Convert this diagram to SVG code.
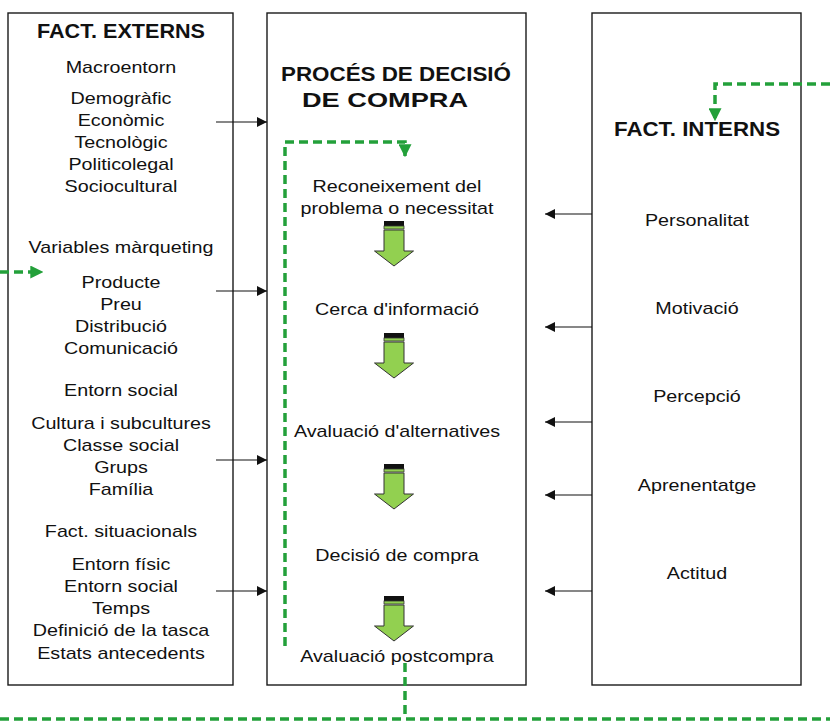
<svg xmlns="http://www.w3.org/2000/svg" width="830" height="722" viewBox="0 0 830 722">
  <style>
    .box { fill: #ffffff; stroke: #1a1a1a; stroke-width: 1.4; }
    .t { font-family: "Liberation Sans", Arial, sans-serif; font-size: 17px; fill: #111; text-anchor: middle; }
    .h { font-family: "Liberation Sans", Arial, sans-serif; font-size: 21px; font-weight: bold; fill: #111; text-anchor: middle; }
    .link { fill: none; stroke: #111; stroke-width: 1.2; }
    .loop { fill: none; stroke: #23a03a; stroke-width: 3.5; stroke-dasharray: 9 5; }
  </style>
  <defs>
    <marker id="ah" viewBox="0 0 10 10" refX="10" refY="5" markerWidth="10" markerHeight="10" markerUnits="userSpaceOnUse" orient="auto">
      <path d="M0,0 L10,5 L0,10 Z" fill="#111"/>
    </marker>
    <marker id="gh" viewBox="0 0 10 10" refX="9" refY="5" markerWidth="13" markerHeight="13" markerUnits="userSpaceOnUse" orient="auto">
      <path d="M0,0 L10,5 L0,10 Z" fill="#23a03a"/>
    </marker>
    <!-- step arrow between stages of the process -->
    <g id="step">
      <rect x="-10" y="0" width="20" height="5" fill="#111"/>
      <rect x="-10" y="5" width="20" height="3" fill="#92d050" stroke="#333" stroke-width="0.8"/>
      <path d="M-10,9 H10 V30 H19.5 L0,45 L-19.5,30 H-10 Z" fill="#92d050" stroke="#333" stroke-width="1"/>
    </g>
  </defs>

  <rect width="830" height="722" fill="#ffffff"/>

  <g id="externs">
    <rect class="box" x="8" y="13" width="225" height="672"/>
    <text class="h" x="121" y="38" textLength="168" lengthAdjust="spacingAndGlyphs">FACT. EXTERNS</text>
    <!-- labels set in a slightly widened face -->
    <g transform="translate(121,0) scale(1.16,1)">
      <text class="t" x="0" y="73">Macroentorn</text>
      <text class="t" x="0" y="104">Demogràfic</text>
      <text class="t" x="0" y="126">Econòmic</text>
      <text class="t" x="0" y="148">Tecnològic</text>
      <text class="t" x="0" y="170">Politicolegal</text>
      <text class="t" x="0" y="192">Sociocultural</text>
      <text class="t" x="0" y="253">Variables màrqueting</text>
      <text class="t" x="0" y="288">Producte</text>
      <text class="t" x="0" y="310">Preu</text>
      <text class="t" x="0" y="332">Distribució</text>
      <text class="t" x="0" y="354">Comunicació</text>
      <text class="t" x="0" y="396">Entorn social</text>
      <text class="t" x="0" y="429">Cultura i subcultures</text>
      <text class="t" x="0" y="451">Classe social</text>
      <text class="t" x="0" y="473">Grups</text>
      <text class="t" x="0" y="495">Família</text>
      <text class="t" x="0" y="537">Fact. situacionals</text>
      <text class="t" x="0" y="570">Entorn físic</text>
      <text class="t" x="0" y="592">Entorn social</text>
      <text class="t" x="0" y="614">Temps</text>
      <text class="t" x="0" y="636">Definició de la tasca</text>
      <text class="t" x="0" y="659">Estats antecedents</text>
    </g>
  </g>

  <g id="proces">
    <rect class="box" x="267" y="13" width="259" height="672"/>
    <text class="h" x="396" y="81" textLength="230" lengthAdjust="spacingAndGlyphs">PROCÉS DE DECISIÓ</text>
    <text class="h" x="385" y="107" textLength="166" lengthAdjust="spacingAndGlyphs">DE COMPRA</text>
    <g transform="translate(397,0) scale(1.16,1)">
      <text class="t" x="0" y="192">Reconeixement del</text>
      <text class="t" x="0" y="214">problema o necessitat</text>
      <text class="t" x="0" y="315">Cerca d'informació</text>
      <text class="t" x="0" y="437">Avaluació d'alternatives</text>
      <text class="t" x="0" y="561">Decisió de compra</text>
      <text class="t" x="0" y="662">Avaluació postcompra</text>
    </g>
    <use href="#step" x="394" y="221"/>
    <use href="#step" x="394" y="333"/>
    <use href="#step" x="394" y="464"/>
    <use href="#step" x="394" y="596"/>
  </g>

  <g id="interns">
    <rect class="box" x="592" y="13" width="209" height="672"/>
    <text class="h" x="697" y="136" textLength="166" lengthAdjust="spacingAndGlyphs">FACT. INTERNS</text>
    <g transform="translate(697,0) scale(1.16,1)">
      <text class="t" x="0" y="226">Personalitat</text>
      <text class="t" x="0" y="314">Motivació</text>
      <text class="t" x="0" y="402">Percepció</text>
      <text class="t" x="0" y="491">Aprenentatge</text>
      <text class="t" x="0" y="579">Actitud</text>
    </g>
  </g>

  <g id="connectors">
    <!-- external factors feed the process -->
    <line class="link" x1="216" y1="122" x2="267" y2="122" marker-end="url(#ah)"/>
    <line class="link" x1="216" y1="291" x2="267" y2="291" marker-end="url(#ah)"/>
    <line class="link" x1="216" y1="460" x2="267" y2="460" marker-end="url(#ah)"/>
    <line class="link" x1="216" y1="591" x2="267" y2="591" marker-end="url(#ah)"/>
    <!-- internal factors feed the process -->
    <line class="link" x1="592" y1="214" x2="545" y2="214" marker-end="url(#ah)"/>
    <line class="link" x1="592" y1="327" x2="545" y2="327" marker-end="url(#ah)"/>
    <line class="link" x1="592" y1="422" x2="545" y2="422" marker-end="url(#ah)"/>
    <line class="link" x1="592" y1="495" x2="545" y2="495" marker-end="url(#ah)"/>
    <line class="link" x1="592" y1="591" x2="545" y2="591" marker-end="url(#ah)"/>
    <!-- feedback loops -->
    <path class="loop" d="M285,646 V142 H405 V156" marker-end="url(#gh)"/>
    <path class="loop" d="M405,663 V719"/>
    <path class="loop" d="M0,719 H830"/>
    <path class="loop" d="M830,84 H715 V120" marker-end="url(#gh)"/>
    <path class="loop" d="M0,272 H42" marker-end="url(#gh)"/>
  </g>
</svg>
